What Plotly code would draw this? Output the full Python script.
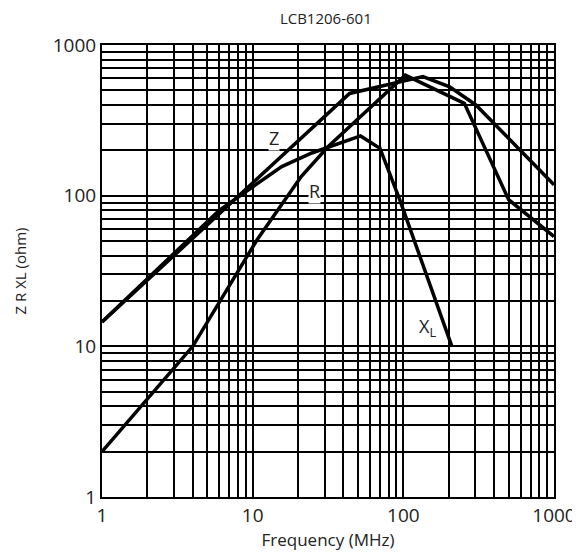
import plotly.graph_objects as go

# Data (frequency in MHz, impedance in ohm)
z_freq = [1, 44, 135, 203, 303, 1000]
z_vals = [14.5, 477, 617, 528, 400, 118]

r_freq = [1, 4, 10.7, 21, 31.6, 103, 254, 500, 1000]
r_vals = [2, 10, 51, 134, 211, 631, 410, 94, 53.5]

xl_freq = [1, 6, 15.6, 24.7, 52, 70, 95, 210]
xl_vals = [14.5, 80, 156, 192, 249, 206, 93, 10]

decades = [1, 10, 100, 1000]
decade_text = ["1", "10", "100", "1000"]
grid_vals = [d * k for d in decades[:-1] for k in range(2, 10)]

title = "LCB1206-601"
x_title = "Frequency (MHz)"
y_title = "Z R XL (ohm)"

FONT = "Open Sans"
TXT = "#222222"

fig = go.Figure()
for fx, fy in [(z_freq, z_vals), (r_freq, r_vals), (xl_freq, xl_vals)]:
    fig.add_trace(go.Scatter(x=fx, y=fy, mode="lines",
                             line=dict(color="black", width=3.5),
                             showlegend=False, hoverinfo="skip"))

axis_common = dict(
    type="log",
    showgrid=True, gridcolor="black", gridwidth=2,
    showline=True, linecolor="black", linewidth=2, mirror=True,
    ticks="", zeroline=False,
    tickfont=dict(family=FONT, size=19, color=TXT),
    tickvals=decades, ticktext=decade_text,
    minor=dict(tickvals=grid_vals, showgrid=True, gridcolor="black",
               gridwidth=2, ticks=""),
)

fig.update_layout(
    width=580, height=557,
    margin=dict(l=83, r=32, t=37, b=68),
    paper_bgcolor="white", plot_bgcolor="white",
    font=dict(family=FONT, color=TXT),
    title=dict(text=title, x=0.548, xanchor="center", y=0.981, yanchor="middle",
               font=dict(family=FONT, size=15, color=TXT)),
    xaxis=dict(axis_common, range=[0, 3],
               title=dict(text=x_title, font=dict(family=FONT, size=17, color=TXT), standoff=1)),
    yaxis=dict(axis_common, range=[0, 3],
               title=dict(text=y_title, font=dict(family=FONT, size=15, color=TXT), standoff=22)),
)

labels = [("Z", 1.142, 2.381), ("R", 1.412, 2.031), ("X<sub>L</sub>", 2.163, 1.122)]
for txt, lx, ly in labels:
    fig.add_annotation(x=lx, y=ly, xref="x", yref="y", text=txt, showarrow=False,
                       bgcolor="white", borderpad=0,
                       font=dict(family=FONT, size=18, color=TXT))

fig.write_html("out.html")
